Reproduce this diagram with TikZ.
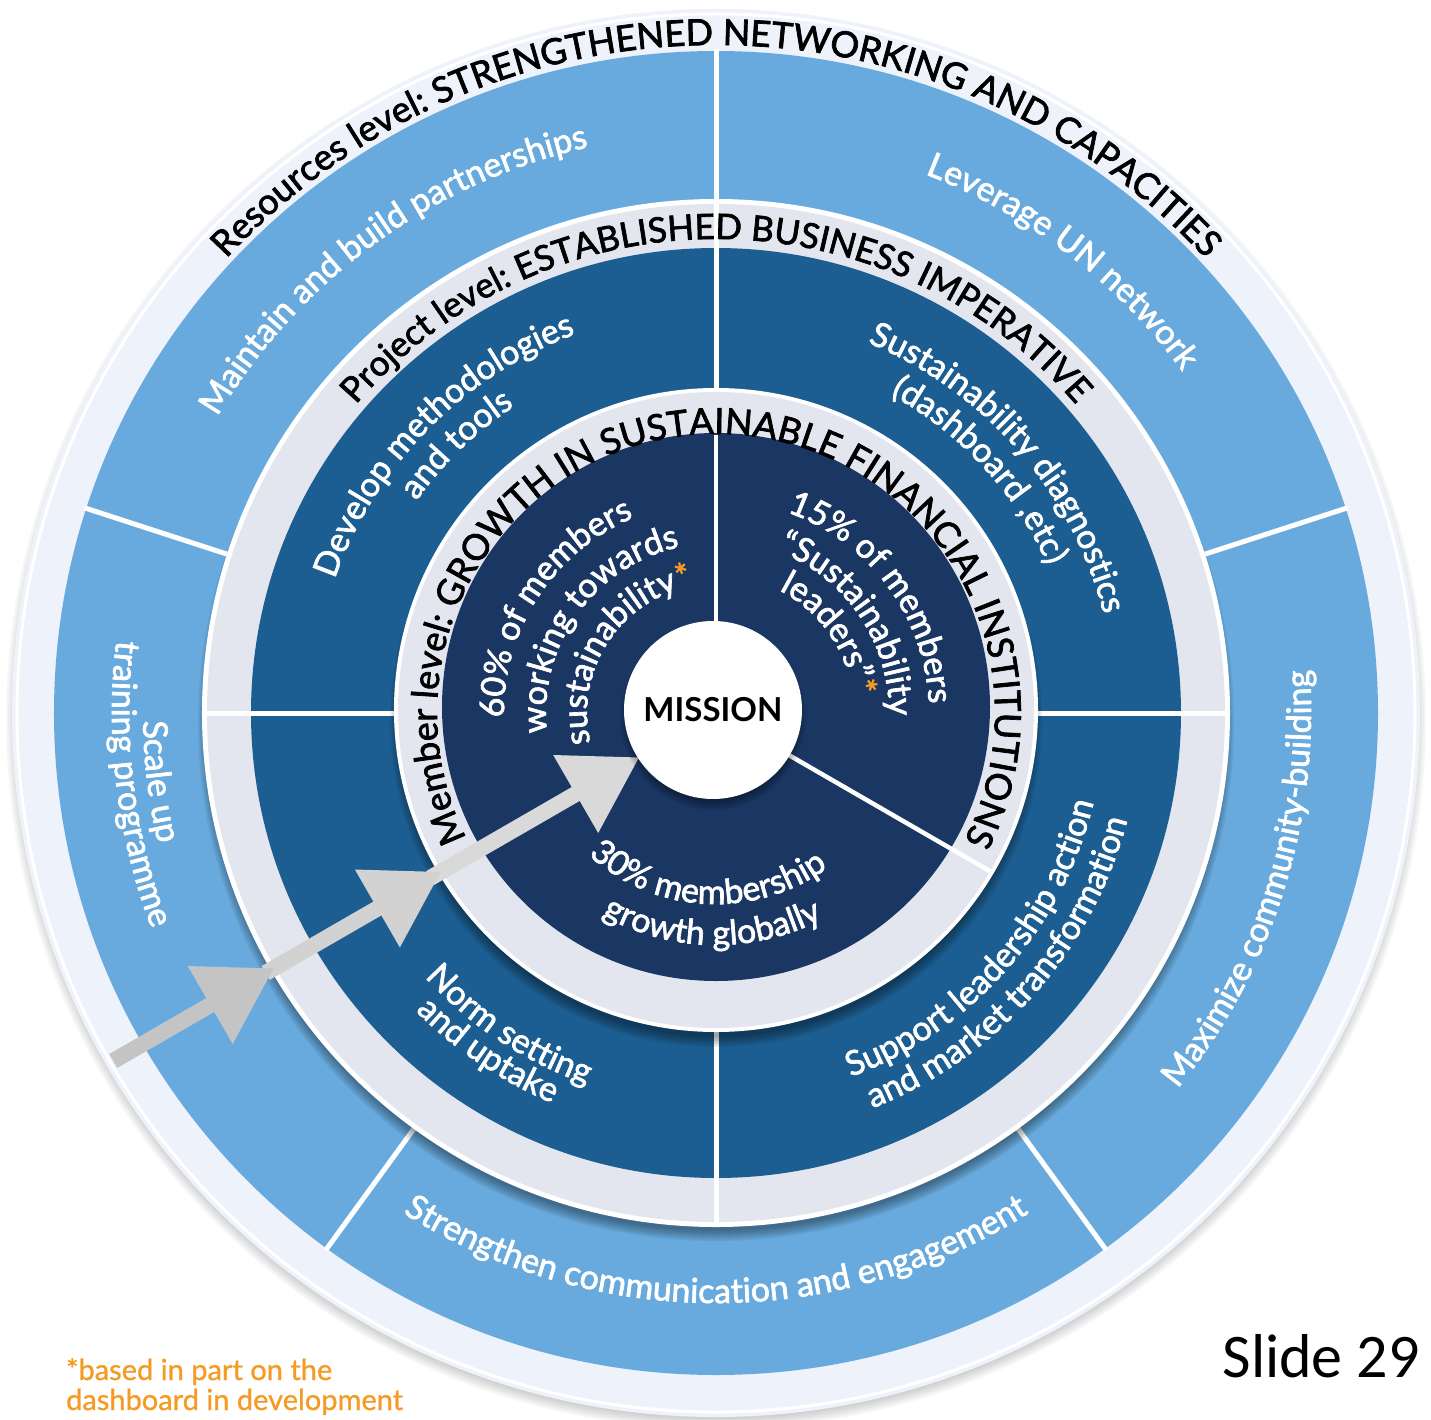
\documentclass[tikz,border=0pt]{standalone}
\usepackage{fontspec}
\setmainfont{Lato}
\newfontfamily\gill{Lato}[FakeBold=2]
\newfontfamily\gillfoot{Lato}[FakeBold=0.8]
\newfontfamily\slidefont{Carlito}
\usetikzlibrary{decorations.text,calc}
\definecolor{pale}{HTML}{EEF2FA}
\definecolor{lightblue}{HTML}{68AADD}
\definecolor{band}{HTML}{E3E6EF}
\definecolor{midblue}{HTML}{1C5E91}
\definecolor{navy}{HTML}{1A3764}
\definecolor{accent}{HTML}{F59A23}
\definecolor{arrowA}{HTML}{C4C4C4}
\definecolor{arrowB}{HTML}{D2D2D2}
\definecolor{arrowC}{HTML}{D9D9D9}
\newcommand\wf{\gill\fontsize{34}{40}\selectfont\color{white}}
\newcommand\tA{\gill\fontsize{36}{42}\selectfont\color{black}}
\newcommand\tB{\gill\fontsize{35}{42}\selectfont\color{black}}
% clockwise text: radius, centre angle, text, half span
\newcommand\cwarc[4]{\path[decorate,decoration={text along path,text align=center,text={#3}}]
  ({#2+#4}:#1) arc[start angle={#2+#4},end angle={#2-#4},radius=#1];}
% counter-clockwise text
\newcommand\ccwarc[4]{\path[decorate,decoration={text along path,text align=center,text={#3}}]
  ({#2-#4}:#1) arc[start angle={#2-#4},end angle={#2+#4},radius=#1];}
% soft shadow below a disc: centre y-offset, radius, opacity per layer
\newcommand\softshadow[3]{\foreach \k in {0,1,2,3,4,5}
  \fill[black,opacity=#3] (0,#1) circle[radius={#2pt-6pt+\k*2pt}];}
\tikzset{
  divider/.style={white,line width=5pt},
  foot/.style={anchor=base west,inner sep=0pt,text=accent,font=\gillfoot\fontsize{29}{34}\selectfont},
}
\begin{document}
\begin{tikzpicture}[x=1pt,y=1pt]
\useasboundingbox (-716,-706) rectangle (715,713);
\fill[white] (-716,-706) rectangle (715,713);
% soft shadow of the disc
\softshadow{-6}{706}{0.03}
% outer pale ring
\fill[pale] (0,0) circle[radius=704pt];
\draw[white,line width=3pt] (0,0) circle[radius=699pt];
% resources ring
\fill[lightblue] (0,0) circle[radius=662pt];
\foreach \a in {18,90,162,234,306} \draw[divider] (\a:505pt) -- (\a:664pt);
% project ring
\softshadow{-10}{514}{0.07}
\fill[white] (0,0) circle[radius=514pt];
\fill[band] (0,0) circle[radius=509pt];
\fill[midblue] (0,0) circle[radius=465pt];
\foreach \a in {0,90,180,270} \draw[divider] (\a:300pt) -- (\a:512pt);
% member ring
\softshadow{-8}{322}{0.07}
\fill[white] (0,3) circle[radius=322pt];
\fill[band] (0,3) circle[radius=318pt];
\fill[navy] (0,6) circle[radius=274pt];
\draw[divider,line width=4.5pt] (90:80pt) -- (90:278pt);
\draw[divider,line width=4.5pt] (-30:80pt) -- (-30:318pt);
% arrow
\coordinate (a0) at (210:696pt);
\coordinate (a1) at (210:560pt);
\coordinate (a2) at (210:520pt);
\coordinate (a3) at (210:380pt);
\coordinate (a4) at (210:330pt);
\coordinate (a5) at (210:150pt);
\draw[arrowA,line width=16pt] (a0) -- (a1);
\draw[arrowB,line width=16pt] (a2) -- (a3);
\draw[arrowC,line width=16pt] (a4) -- (a5);
\foreach \t/\c in {511/arrowA,318/arrowB,89/arrowC}{
  \fill[\c] (210:\t pt) -- ($(210:\t pt)+(210:73pt)+(120:45pt)$) -- ($(210:\t pt)+(210:73pt)+(300:45pt)$) -- cycle;
}
% mission
\begin{scope}[shift={(-3,3)}]
\softshadow{-7}{89}{0.08}
\end{scope}
\node[circle,fill=white,minimum size=178pt,inner sep=0pt,font=\fontsize{33}{40}\selectfont\bfseries] (mission) at (-3,3) {MISSION};
% ring titles
\cwarc{668pt}{90}{|\tA|Resources level: STRENGTHENED NETWORKING AND CAPACITIES}{88}
\cwarc{474pt}{90}{|\tB|Project level: ESTABLISHED BUSINESS IMPERATIVE}{85}
\cwarc{279pt}{89.7}{|\tA|Member level: GROWTH IN SUSTAINABLE FINANCIAL INSTITUTIONS}{175}
% resources segments
\cwarc{580pt}{126}{|\wf|Maintain and build partnerships}{60}
\cwarc{578pt}{52.5}{|\wf|Leverage UN network}{50}
\ccwarc{573pt}{187}{|\wf|Scale up}{40}
\ccwarc{604pt}{187}{|\wf|training programme}{40}
\ccwarc{595pt}{342.5}{|\wf|Maximize community-building}{45}
\ccwarc{590pt}{270}{|\wf|Strengthen communication and engagement}{50}
% project segments
\cwarc{404pt}{135.5}{|\wf|Develop methodologies}{45}
\cwarc{367pt}{134}{|\wf|and tools}{45}
\cwarc{400pt}{41}{|\wf|Sustainability diagnostics}{45}
\cwarc{363pt}{42.6}{|\wf|(dashboard ,etc)}{45}
\ccwarc{393pt}{236.5}{|\wf|Norm setting}{40}
\ccwarc{423pt}{236}{|\wf|and uptake}{40}
\ccwarc{388pt}{318.5}{|\wf|Support leadership action}{45}
\ccwarc{425pt}{318.5}{|\wf|and market transformation}{45}
% member segments
\cwarc{212pt}{147}{|\wf|60{\%} of members}{80}
\cwarc{170pt}{144.5}{|\wf|working towards}{85}
\cwarc{129pt}{147}{|\wf|sustainability|\wf\color{accent}|*}{90}
\cwarc{213pt}{36.5}{|\wf|15{\%} of members}{80}
\cwarc{173pt}{34}{|\wf|“Sustainability}{85}
\cwarc{138pt}{35}{|\wf|leaders”|\wf\color{accent}|*}{90}
\ccwarc{191pt}{267}{|\wf|30{\%} membership}{80}
\ccwarc{232pt}{269}{|\wf|growth globally}{80}
% footnote and slide number
\node[foot] (foot1) at (-650,-667) {*based in part on the};
\node[foot] (foot2) at (-650,-697) {dashboard in development};
\node[anchor=base east,inner sep=0pt,font=\slidefont\fontsize{62}{70}\selectfont] (slide) at (704,-664) {Slide 29};
\end{tikzpicture}
\end{document}
